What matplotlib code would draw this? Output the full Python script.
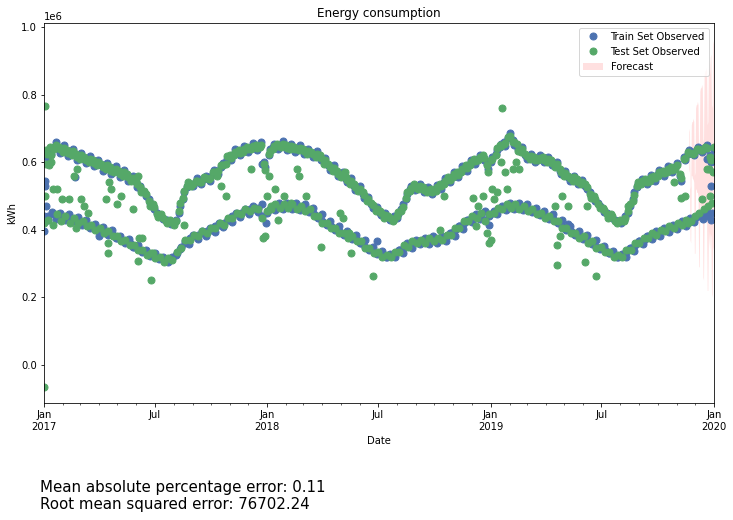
import matplotlib
matplotlib.use('Agg')
import matplotlib.pyplot as plt
import matplotlib.dates as mdates
import pandas as pd

# weekly readings (millions of kWh), Wednesdays from 2017-01-04
blue_weekday = [
    0.630, 0.640, 0.645, 0.640, 0.635, 0.630, 0.625, 0.620, 0.615, 0.610, 0.605,
    0.600, 0.595, 0.590, 0.585, 0.580, 0.575, 0.570, 0.565, 0.560, 0.550, 0.540,
    0.530, 0.510, 0.490, 0.470, 0.450, 0.440, 0.430, 0.425, 0.420, 0.450, 0.490,
    0.525, 0.535, 0.540, 0.545, 0.550, 0.555, 0.565, 0.575, 0.585, 0.600, 0.615,
    0.625, 0.630, 0.635, 0.640, 0.645, 0.645, 0.650, 0.600, 0.620, 0.645, 0.650,
    0.650, 0.645, 0.645, 0.640, 0.640, 0.635, 0.630, 0.625, 0.620, 0.615, 0.600,
    0.590, 0.580, 0.570, 0.560, 0.550, 0.540, 0.530, 0.520, 0.505, 0.490, 0.475,
    0.460, 0.450, 0.440, 0.435, 0.430, 0.435, 0.460, 0.490, 0.520, 0.530, 0.525,
    0.520, 0.515, 0.515, 0.520, 0.530, 0.540, 0.550, 0.560, 0.565, 0.575, 0.585,
    0.595, 0.605, 0.610, 0.615, 0.595, 0.600, 0.625, 0.645, 0.660, 0.670, 0.665,
    0.650, 0.635, 0.620, 0.615, 0.610, 0.610, 0.610, 0.605, 0.600, 0.590, 0.575,
    0.565, 0.555, 0.550, 0.545, 0.540, 0.530, 0.510, 0.495, 0.480, 0.460, 0.450,
    0.440, 0.430, 0.425, 0.430, 0.450, 0.490, 0.525, 0.540, 0.545, 0.550, 0.555,
    0.565, 0.570, 0.575, 0.580, 0.585, 0.560, 0.615, 0.625, 0.630, 0.635, 0.640,
    0.640, 0.620, 0.640,
]
# Fridays from 2017-01-06
blue_friday = [
    0.615, 0.625, 0.660, 0.628, 0.650, 0.618, 0.640, 0.605, 0.628, 0.596, 0.618,
    0.588, 0.607, 0.575, 0.598, 0.566, 0.588, 0.556, 0.578, 0.545, 0.560, 0.525,
    0.518, 0.500, 0.478, 0.462, 0.445, 0.432, 0.428, 0.418, 0.430, 0.470, 0.510,
    0.532, 0.528, 0.552, 0.535, 0.560, 0.545, 0.578, 0.565, 0.598, 0.610, 0.605,
    0.638, 0.620, 0.648, 0.630, 0.656, 0.635, 0.660, 0.585, 0.640, 0.655, 0.640,
    0.662, 0.635, 0.655, 0.630, 0.650, 0.625, 0.640, 0.615, 0.632, 0.605, 0.612,
    0.578, 0.590, 0.558, 0.572, 0.540, 0.552, 0.518, 0.528, 0.495, 0.498, 0.465,
    0.468, 0.442, 0.448, 0.428, 0.440, 0.445, 0.475, 0.505, 0.528, 0.518, 0.535,
    0.510, 0.525, 0.505, 0.532, 0.520, 0.552, 0.540, 0.572, 0.555, 0.588, 0.575,
    0.607, 0.595, 0.622, 0.605, 0.580, 0.615, 0.635, 0.655, 0.648, 0.685, 0.652,
    0.640, 0.645, 0.610, 0.625, 0.600, 0.620, 0.600, 0.615, 0.590, 0.600, 0.565,
    0.575, 0.545, 0.560, 0.535, 0.548, 0.520, 0.500, 0.485, 0.470, 0.452, 0.442,
    0.435, 0.425, 0.420, 0.440, 0.470, 0.510, 0.535, 0.550, 0.535, 0.562, 0.545,
    0.577, 0.560, 0.587, 0.570, 0.597, 0.545, 0.605, 0.635, 0.620, 0.645, 0.630,
    0.650, 0.600,
]
# Sundays from 2017-01-01
blue_weekend = [
    0.440, 0.440, 0.445, 0.440, 0.440, 0.435, 0.435, 0.430, 0.425, 0.420, 0.415,
    0.410, 0.405, 0.400, 0.395, 0.390, 0.385, 0.375, 0.370, 0.365, 0.360, 0.350,
    0.345, 0.335, 0.330, 0.325, 0.320, 0.315, 0.310, 0.310, 0.315, 0.330, 0.350,
    0.365, 0.375, 0.380, 0.385, 0.390, 0.395, 0.400, 0.410, 0.415, 0.420, 0.430,
    0.440, 0.445, 0.450, 0.455, 0.460, 0.460, 0.465, 0.440, 0.450, 0.465, 0.470,
    0.470, 0.470, 0.470, 0.470, 0.465, 0.465, 0.460, 0.455, 0.445, 0.435, 0.425,
    0.415, 0.410, 0.400, 0.395, 0.385, 0.380, 0.375, 0.370, 0.360, 0.350, 0.340,
    0.335, 0.330, 0.325, 0.320, 0.325, 0.330, 0.340, 0.350, 0.355, 0.360, 0.365,
    0.365, 0.365, 0.370, 0.370, 0.370, 0.375, 0.380, 0.390, 0.400, 0.410, 0.420,
    0.430, 0.435, 0.440, 0.445, 0.430, 0.440, 0.455, 0.460, 0.465, 0.470, 0.470,
    0.470, 0.465, 0.465, 0.460, 0.455, 0.450, 0.445, 0.440, 0.435, 0.430, 0.420,
    0.410, 0.400, 0.395, 0.385, 0.380, 0.375, 0.365, 0.360, 0.350, 0.345, 0.340,
    0.330, 0.325, 0.320, 0.325, 0.335, 0.345, 0.355, 0.365, 0.370, 0.380, 0.385,
    0.390, 0.395, 0.400, 0.405, 0.410, 0.415, 0.420, 0.425, 0.430, 0.435, 0.440,
    0.445, 0.440, 0.450,
]
# Saturdays from 2017-01-07
blue_saturday = [
    0.428, 0.452, 0.432, 0.450, 0.430, 0.445, 0.425, 0.438, 0.415, 0.428, 0.405,
    0.418, 0.395, 0.408, 0.385, 0.398, 0.375, 0.382, 0.360, 0.372, 0.350, 0.356,
    0.336, 0.340, 0.322, 0.330, 0.312, 0.320, 0.305, 0.318, 0.325, 0.342, 0.360,
    0.358, 0.385, 0.372, 0.395, 0.382, 0.405, 0.392, 0.420, 0.407, 0.432, 0.422,
    0.450, 0.437, 0.460, 0.447, 0.470, 0.452, 0.475, 0.420, 0.460, 0.457, 0.480,
    0.462, 0.480, 0.462, 0.478, 0.457, 0.475, 0.452, 0.465, 0.437, 0.445, 0.417,
    0.425, 0.402, 0.410, 0.387, 0.395, 0.372, 0.385, 0.362, 0.370, 0.342, 0.348,
    0.327, 0.338, 0.318, 0.328, 0.318, 0.340, 0.332, 0.360, 0.347, 0.370, 0.357,
    0.375, 0.357, 0.380, 0.362, 0.380, 0.367, 0.390, 0.382, 0.410, 0.402, 0.430,
    0.422, 0.445, 0.432, 0.455, 0.415, 0.450, 0.447, 0.470, 0.457, 0.480, 0.462,
    0.480, 0.457, 0.475, 0.452, 0.465, 0.442, 0.455, 0.432, 0.445, 0.422, 0.430,
    0.402, 0.410, 0.387, 0.395, 0.372, 0.383, 0.357, 0.368, 0.342, 0.352, 0.332,
    0.338, 0.318, 0.328, 0.318, 0.345, 0.338, 0.365, 0.357, 0.380, 0.372, 0.395,
    0.382, 0.405, 0.392, 0.415, 0.402, 0.425, 0.412, 0.435, 0.422, 0.445, 0.432,
    0.455, 0.430,
]
green_weekday = [
    0.635, 0.645, 0.640, 0.645, 0.630, 0.635, 0.620, 0.625, 0.610, 0.615, 0.600,
    0.605, 0.590, 0.595, 0.580, 0.585, 0.570, 0.575, 0.560, 0.565, 0.545, 0.545,
    0.525, 0.515, 0.485, 0.475, 0.445, 0.445, 0.425, 0.430, 0.415, 0.455, 0.495,
    0.530, 0.530, 0.545, 0.540, 0.555, 0.550, 0.570, 0.570, 0.590, 0.595, 0.620,
    0.620, 0.635, 0.630, 0.645, 0.640, 0.650, 0.645, 0.595, 0.625, 0.640, 0.655,
    0.645, 0.650, 0.640, 0.645, 0.635, 0.640, 0.625, 0.630, 0.615, 0.620, 0.595,
    0.595, 0.575, 0.575, 0.555, 0.555, 0.535, 0.535, 0.515, 0.510, 0.485, 0.480,
    0.455, 0.455, 0.435, 0.440, 0.425, 0.440, 0.455, 0.495, 0.515, 0.535, 0.520,
    0.525, 0.510, 0.520, 0.515, 0.535, 0.535, 0.555, 0.555, 0.570, 0.570, 0.590,
    0.590, 0.610, 0.605, 0.620, 0.590, 0.605, 0.620, 0.650, 0.655, 0.675, 0.660,
    0.655, 0.630, 0.625, 0.610, 0.615, 0.605, 0.615, 0.600, 0.605, 0.585, 0.580,
    0.560, 0.560, 0.545, 0.550, 0.535, 0.535, 0.505, 0.500, 0.475, 0.465, 0.445,
    0.445, 0.425, 0.430, 0.425, 0.455, 0.485, 0.530, 0.535, 0.550, 0.545, 0.560,
    0.560, 0.575, 0.570, 0.585, 0.580, 0.565, 0.610, 0.630, 0.625, 0.640, 0.635,
    0.645, 0.615, 0.645,
]
green_friday = [
    0.625, 0.620, 0.650, 0.638, 0.642, 0.626, 0.632, 0.615, 0.620, 0.606, 0.610,
    0.596, 0.600, 0.585, 0.590, 0.575, 0.580, 0.565, 0.570, 0.555, 0.552, 0.535,
    0.510, 0.505, 0.470, 0.466, 0.438, 0.436, 0.420, 0.424, 0.425, 0.478, 0.515,
    0.540, 0.535, 0.545, 0.542, 0.553, 0.552, 0.570, 0.574, 0.590, 0.618, 0.612,
    0.630, 0.628, 0.640, 0.638, 0.648, 0.643, 0.652, 0.578, 0.632, 0.648, 0.648,
    0.655, 0.643, 0.648, 0.638, 0.642, 0.633, 0.632, 0.623, 0.625, 0.612, 0.605,
    0.586, 0.582, 0.566, 0.565, 0.548, 0.545, 0.526, 0.520, 0.502, 0.490, 0.472,
    0.460, 0.448, 0.442, 0.434, 0.433, 0.452, 0.468, 0.512, 0.522, 0.525, 0.528,
    0.518, 0.518, 0.512, 0.525, 0.528, 0.545, 0.548, 0.565, 0.562, 0.580, 0.582,
    0.600, 0.602, 0.615, 0.612, 0.572, 0.608, 0.642, 0.648, 0.656, 0.678, 0.660,
    0.632, 0.638, 0.617, 0.618, 0.607, 0.613, 0.607, 0.608, 0.597, 0.593, 0.572,
    0.568, 0.552, 0.553, 0.542, 0.541, 0.527, 0.493, 0.492, 0.463, 0.458, 0.436,
    0.441, 0.420, 0.426, 0.434, 0.476, 0.504, 0.541, 0.543, 0.542, 0.555, 0.552,
    0.570, 0.567, 0.580, 0.577, 0.590, 0.552, 0.612, 0.628, 0.627, 0.638, 0.637,
    0.643, 0.607,
]
green_weekend = [
    0.420, 0.430, 0.415, 0.445, 0.425, 0.440, 0.420, 0.435, 0.420, 0.425, 0.410,
    0.415, 0.400, 0.405, 0.390, 0.395, 0.380, 0.380, 0.365, 0.370, 0.355, 0.355,
    0.340, 0.340, 0.325, 0.330, 0.315, 0.320, 0.305, 0.315, 0.310, 0.335, 0.345,
    0.370, 0.370, 0.385, 0.380, 0.395, 0.390, 0.405, 0.405, 0.420, 0.415, 0.435,
    0.435, 0.450, 0.445, 0.460, 0.455, 0.465, 0.460, 0.435, 0.455, 0.470, 0.475,
    0.465, 0.475, 0.465, 0.475, 0.460, 0.470, 0.455, 0.460, 0.440, 0.440, 0.420,
    0.420, 0.405, 0.405, 0.390, 0.390, 0.375, 0.380, 0.365, 0.365, 0.345, 0.345,
    0.330, 0.335, 0.320, 0.325, 0.320, 0.335, 0.335, 0.355, 0.350, 0.365, 0.360,
    0.370, 0.360, 0.375, 0.365, 0.375, 0.370, 0.385, 0.385, 0.405, 0.405, 0.425,
    0.425, 0.440, 0.435, 0.450, 0.425, 0.445, 0.450, 0.465, 0.460, 0.475, 0.465,
    0.475, 0.460, 0.470, 0.455, 0.460, 0.445, 0.450, 0.435, 0.440, 0.425, 0.425,
    0.405, 0.405, 0.390, 0.390, 0.375, 0.380, 0.360, 0.365, 0.345, 0.350, 0.335,
    0.335, 0.320, 0.325, 0.320, 0.340, 0.340, 0.360, 0.360, 0.375, 0.375, 0.390,
    0.385, 0.400, 0.395, 0.410, 0.405, 0.420, 0.415, 0.430, 0.425, 0.440, 0.450,
    0.460, 0.470, 0.480,
]

# holidays, transitions and outliers
blue_extra_dates = ['2017-01-01', '2017-01-02', '2017-01-03', '2017-01-04', '2017-02-20',
                    '2017-04-01', '2017-12-24', '2018-06-30', '2018-10-30', '2019-05-08',
                    '2019-12-20', '2019-12-27']
blue_extra = [0.395, 0.545, 0.530, 0.470, 0.557, 0.380, 0.595, 0.367, 0.390, 0.418,
              0.610, 0.530]
green_extra_dates = [
    '2017-01-01', '2017-01-02', '2017-01-03', '2017-01-05', '2017-01-09', '2017-01-12',
    '2017-01-16', '2017-01-22', '2017-01-30', '2017-02-11', '2017-02-19', '2017-02-24',
    '2017-03-03', '2017-03-08', '2017-03-14', '2017-02-22', '2017-04-13', '2017-04-15',
    '2017-04-16', '2017-04-18', '2017-04-21', '2017-05-01', '2017-05-07', '2017-05-26',
    '2017-06-04', '2017-06-03', '2017-06-06', '2017-06-11', '2017-06-25', '2017-06-29',
    '2017-08-18', '2017-10-11', '2017-10-17', '2017-10-26', '2017-12-06', '2017-12-25',
    '2017-12-29', '2017-12-31', '2018-01-03', '2018-01-07', '2018-01-14', '2018-01-19',
    '2018-01-28', '2018-02-09', '2018-02-18', '2018-02-21', '2018-03-06', '2018-03-30',
    '2018-04-30', '2018-05-05', '2018-05-08', '2018-05-15', '2018-05-18', '2018-06-23',
    '2018-10-10', '2018-10-17', '2018-12-04', '2018-12-08', '2018-12-12', '2018-12-20',
    '2018-12-26', '2018-12-29', '2019-01-01', '2019-01-04', '2019-01-06', '2019-01-11',
    '2019-01-18', '2019-01-20', '2019-01-25', '2019-01-28', '2019-02-02', '2019-02-06',
    '2019-02-12', '2019-02-16', '2019-04-17', '2019-04-19', '2019-04-20', '2019-04-25',
    '2019-04-28', '2019-05-08', '2019-05-17', '2019-06-05', '2019-06-08', '2019-06-22',
    '2019-08-13', '2019-10-28', '2019-11-08', '2019-11-14', '2019-11-20', '2019-12-12',
    '2019-12-21', '2019-12-24', '2019-12-25', '2019-12-30',
]
green_extra = [
    -0.065, 0.500, 0.765, 0.595, 0.590, 0.600, 0.520, 0.520, 0.490, 0.490, 0.560,
    0.580, 0.490, 0.470, 0.450, 0.405, 0.490, 0.330, 0.360, 0.540, 0.520, 0.477,
    0.500, 0.460, 0.560, 0.308, 0.376, 0.376, 0.250, 0.330, 0.415, 0.560, 0.530,
    0.500, 0.580, 0.376, 0.380, 0.500, 0.560, 0.460, 0.520, 0.430, 0.500, 0.480,
    0.580, 0.560, 0.500, 0.350, 0.450, 0.435, 0.570, 0.390, 0.330, 0.264, 0.400,
    0.500, 0.495, 0.410, 0.470, 0.500, 0.390, 0.360, 0.370, 0.520, 0.490, 0.510,
    0.600, 0.761, 0.570, 0.520, 0.470, 0.580, 0.600, 0.580, 0.470, 0.355, 0.296,
    0.380, 0.500, 0.470, 0.557, 0.305, 0.470, 0.264, 0.470, 0.540, 0.495, 0.500,
    0.420, 0.490, 0.580, 0.580, 0.500, 0.570,
]

# forecast interval, daily from 2019-11-21
fc_upper = [0.70, 0.69, 0.52, 0.53, 0.71, 0.72, 0.72, 0.73, 0.72, 0.56, 0.57,
            0.76, 0.77, 0.77, 0.78, 0.77, 0.61, 0.62, 0.81, 0.82, 0.82, 0.83,
            0.82, 0.66, 0.67, 0.86, 0.87, 0.87, 0.88, 0.87, 0.71, 0.72, 0.90,
            0.88, 0.86, 0.91, 0.92, 0.76, 0.77, 0.95, 0.96]
fc_lower = [0.58, 0.57, 0.37, 0.36, 0.56, 0.56, 0.55, 0.55, 0.54, 0.33, 0.33,
            0.52, 0.52, 0.51, 0.51, 0.50, 0.29, 0.29, 0.48, 0.47, 0.47, 0.46,
            0.46, 0.26, 0.25, 0.44, 0.43, 0.43, 0.42, 0.42, 0.22, 0.22, 0.40,
            0.37, 0.34, 0.39, 0.38, 0.21, 0.20, 0.35, 0.34]


def weekly(values, start):
    return pd.Series(values, index=pd.date_range(start, periods=len(values), freq='7D'))


train = pd.concat([
    weekly(blue_weekend, '2017-01-01'),
    weekly(blue_weekday, '2017-01-04'),
    weekly(blue_friday, '2017-01-06'),
    weekly(blue_saturday, '2017-01-07'),
    pd.Series(blue_extra, index=pd.to_datetime(blue_extra_dates)),
]).sort_index() * 1e6
test = pd.concat([
    weekly(green_weekend, '2017-01-01'),
    weekly(green_weekday, '2017-01-04'),
    weekly(green_friday, '2017-01-06'),
    pd.Series(green_extra, index=pd.to_datetime(green_extra_dates)),
]).sort_index() * 1e6
fc_dates = pd.date_range('2019-11-21', periods=len(fc_upper), freq='D')

fig = plt.figure(figsize=(733 / 72, 520 / 72), dpi=72)
ax = fig.add_axes([0.060, 0.225, 0.914, 0.731])

ax.plot(train.index, train.values, 'o', color='#4C72B0', markersize=7, label='Train Set Observed')
ax.plot(test.index, test.values, 'o', color='#55A868', markersize=7, label='Test Set Observed')
ax.fill_between(fc_dates, [v * 1e6 for v in fc_lower], [v * 1e6 for v in fc_upper],
                color='red', alpha=0.12, linewidth=0, label='Forecast')

ax.set_xlim(pd.Timestamp('2017-01-01'), pd.Timestamp('2020-01-01'))
ax.set_ylim(-0.113e6, 1.012e6)

ax.xaxis.set_major_locator(mdates.MonthLocator(bymonth=[1, 7]))
ax.xaxis.set_minor_locator(mdates.MonthLocator())


def date_label(x, pos=None):
    d = mdates.num2date(x)
    if d.month == 1:
        return d.strftime('%b\n%Y')
    return d.strftime('%b')


ax.xaxis.set_major_formatter(plt.FuncFormatter(date_label))
ax.tick_params(labelsize=10)

ax.set_title('Energy consumption', fontsize=12)
ax.set_xlabel('Date', fontsize=10)
ax.set_ylabel('kWh', fontsize=10)
ax.legend(loc='upper right', fontsize=10)

fig.text(0.054, 0.046, 'Mean absolute percentage error: 0.11\nRoot mean squared error: 76702.24',
         fontsize=15, va='center', ha='left')

fig.savefig('out.png', dpi=72)
